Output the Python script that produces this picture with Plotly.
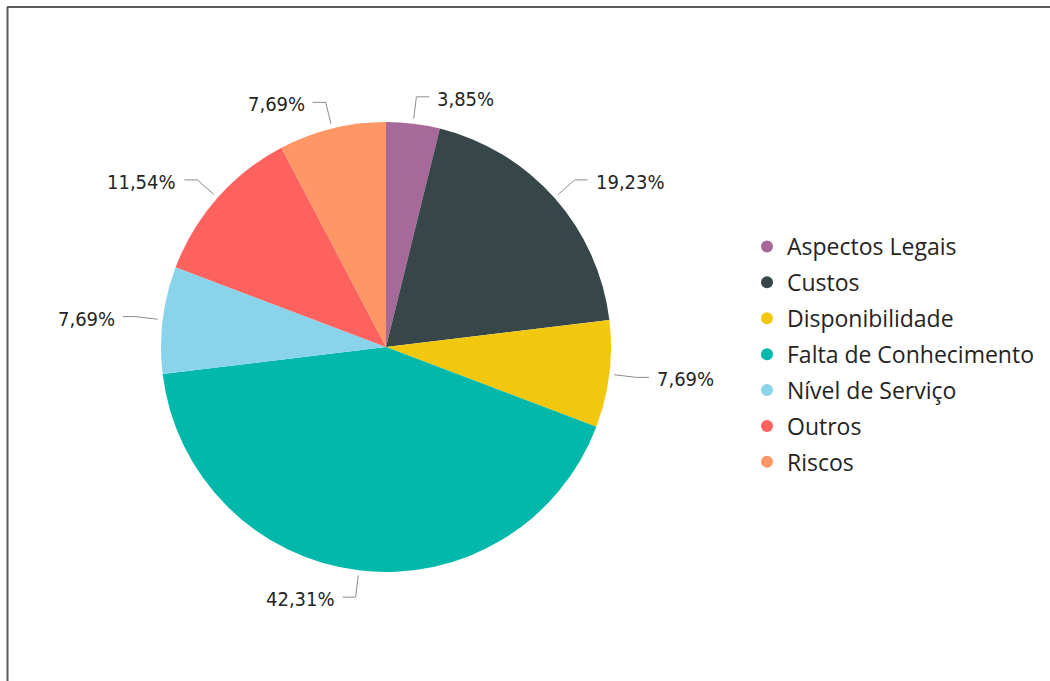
import math
import plotly.graph_objects as go

# Categories and response counts
categories = [
    "Aspectos Legais",
    "Custos",
    "Disponibilidade",
    "Falta de Conhecimento",
    "Nível de Serviço",
    "Outros",
    "Riscos",
]
counts = [1, 5, 2, 11, 2, 3, 2]
colors = ["#A66999", "#374649", "#F2C80F", "#01B8AA", "#8AD4EB", "#FD625E", "#FE9666"]

W, H = 1050, 681
CX, CY, R = 386, 347, 225  # pie centre and radius in pixels

LABEL_FONT = "DejaVu Sans Condensed, Liberation Sans Narrow, Roboto, sans-serif"
LEGEND_FONT = "Open Sans, Noto Sans, sans-serif"


def px(x):
    return x / W


def py(y):
    return 1 - y / H


total = sum(counts)
labels_pct = [f"{c / total * 100:.2f}".replace(".", ",") + "%" for c in counts]

fig = go.Figure()
fig.add_trace(go.Pie(
    labels=categories,
    values=counts,
    sort=False,
    direction="clockwise",
    marker=dict(colors=colors, line=dict(width=0)),
    textinfo="none",
    hoverinfo="label+percent",
    showlegend=False,
    domain=dict(x=[px(CX - R), px(CX + R)], y=[py(CY + R), py(CY - R)]),
))

# Legend entries with round markers
for i, (name, col) in enumerate(zip(categories, colors)):
    fig.add_trace(go.Scatter(
        x=[None], y=[None], mode="markers", name=name,
        legendgroup=f"g{i}",
        marker=dict(symbol="circle", size=12, color=col),
    ))

# Outside labels with leader lines
shapes = []
annotations = []
cum = 0.0
for c, txt in zip(counts, labels_pct):
    mid = (cum + c / 2) / total * 2 * math.pi
    cum += c
    s, co = math.sin(mid), math.cos(mid)
    ax, ay = CX + (R + 5) * s, CY - (R + 5) * co
    bx, by = CX + (R + 27) * s, CY - (R + 27) * co
    side = 1 if s >= 0 else -1
    ex = bx + side * 13
    shapes.append(dict(
        type="path", xref="paper", yref="paper",
        path=f"M {px(ax)},{py(ay)} L {px(bx)},{py(by)} L {px(ex)},{py(by)}",
        line=dict(color="#8c8c8c", width=1),
    ))
    annotations.append(dict(
        x=px(ex + side * 6), y=py(by + 2), xref="paper", yref="paper",
        text=txt, showarrow=False,
        xanchor="left" if side > 0 else "right", yanchor="middle",
        font=dict(family=LABEL_FONT, size=20, color="#252423"),
    ))

# Frame lines along the top and left edges
shapes.append(dict(type="line", xref="paper", yref="paper",
                   x0=px(7), x1=1, y0=py(7), y1=py(7),
                   line=dict(color="#5a5a5a", width=2)))
shapes.append(dict(type="line", xref="paper", yref="paper",
                   x0=px(7.5), x1=px(7.5), y0=py(7), y1=0,
                   line=dict(color="#5a5a5a", width=2)))

fig.update_layout(
    width=W, height=H,
    margin=dict(l=0, r=0, t=0, b=0),
    paper_bgcolor="white",
    plot_bgcolor="white",
    xaxis=dict(visible=False),
    yaxis=dict(visible=False),
    shapes=shapes,
    annotations=annotations,
    legend=dict(
        x=px(747), y=py(225), xanchor="left", yanchor="top",
        font=dict(family=LEGEND_FONT, size=23, color="#252423"),
        tracegroupgap=3,
        itemwidth=30,
        bgcolor="rgba(0,0,0,0)",
    ),
)

fig.write_html("out.html")
